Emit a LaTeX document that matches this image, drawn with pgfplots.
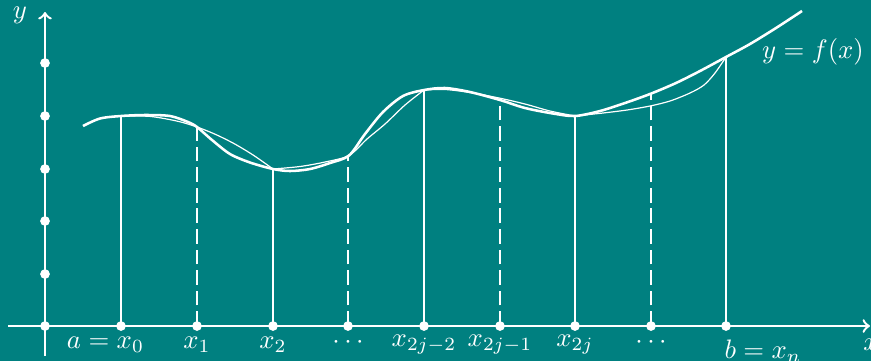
\documentclass[border=0pt]{standalone}
\usepackage{pgfplots}
\pgfplotsset{compat=1.18}
\definecolor{bg}{RGB}{0,128,128}
\begin{document}
\begin{tikzpicture}
\useasboundingbox (0,0) rectangle (326pt,135.12pt);
\clip (0,0) rectangle (326pt,135.12pt);
\fill[bg] (0,0) rectangle (326pt,135.12pt);
\begin{axis}[at={(0,0)}, anchor=south west, scale only axis,
  width=326pt, height=135.12pt, xmin=0, xmax=871, ymin=-35, ymax=326,
  axis lines=none, clip=false]
% solid ordinates
\addplot[ycomb, white, line width=0.75pt, mark=none] coordinates {
 (121,210) (273,157) (424,236) (575,210) (726,269)};
% dashed ordinates
\addplot[ycomb, white, line width=0.75pt, mark=none, dash pattern=on 5.5pt off 2.2pt] coordinates {
 (197,199) (348,170) (500,226) (651,232)};
% thin approximating arcs
\addplot[white, line width=0.45pt, smooth, mark=none] coordinates {
 (121,210) (150,209.6) (178,204.7) (197,199) (216,191.4) (235,181.9) (254,170.4) (273,157)};
\addplot[white, line width=0.45pt, smooth, mark=none] coordinates {
 (273,157) (300,159.5) (325,164) (349,170.5) (367,187) (385,202) (405,221) (424,236)};
\addplot[white, line width=0.45pt, smooth, mark=none] coordinates {
 (424,236) (445,236.5) (470,233.5) (499,228) (525,222) (550,215) (575,210)};
\addplot[white, line width=0.45pt, smooth, mark=none] coordinates {
 (575,210) (603,213) (627,216) (650,220) (670,225) (690,233) (704,241) (715,253) (726,269)};
% thick curve y = f(x)
\addplot[white, line width=0.95pt, smooth, mark=none] coordinates {
 (83,200) (100,207.5) (121,210) (145,211) (170,210) (188,204) (197,199)
 (212,186) (230,172) (250,163.5) (273,157) (290,155) (310,157) (330,163)
 (349,170.5) (365,192) (383,214) (403,230) (424,236) (445,238) (470,234)
 (500,226) (525,218) (553,212.5) (575,210) (600,215) (625,223) (650,232)
 (676,243) (700,255) (726,269) (750,282) (776,298) (802,315)};
% axes
\addplot[white, line width=0.9pt, ->, mark=none] coordinates {(8,0) (870,0)};
\addplot[white, line width=0.9pt, ->, mark=none] coordinates {(45,-30) (45,314)};
% dots
\addplot[only marks, mark=*, mark size=1.6pt, white] coordinates {
 (45,0) (45,52) (45,105) (45,157) (45,210) (45,263)
 (121,0) (197,0) (273,0) (348,0) (424,0) (500,0) (575,0) (651,0) (726,0)};
% labels
\node[white] at (axis cs:20,311) {$y$};
\node[white] at (axis cs:813,274) {$y=f(x)$};
\node[white] at (axis cs:105.5,-19) {$a=x_0$};
\node[white] at (axis cs:197,-19) {$x_1$};
\node[white] at (axis cs:273,-19) {$x_2$};
\node[white] at (axis cs:348,-17) {$\cdots$};
\node[white] at (axis cs:424,-19) {$x_{2j-2}$};
\node[white] at (axis cs:500,-19) {$x_{2j-1}$};
\node[white] at (axis cs:575,-19) {$x_{2j}$};
\node[white] at (axis cs:651,-17) {$\cdots$};
\node[white] at (axis cs:763,-25) {$b=x_n$};
\node[white] at (axis cs:871,-19) {$x$};
\end{axis}
\end{tikzpicture}
\end{document}
